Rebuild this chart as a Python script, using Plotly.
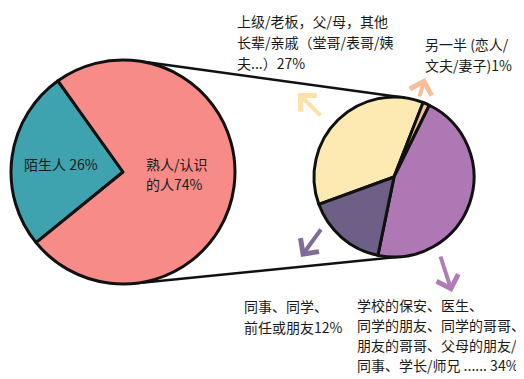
import math
import plotly.graph_objects as go

# page body adds an 8px margin; the figure is sized/offset so the picture fills the window
OX, OY = 8, 8
W, H = 516, 371

# ---- data ----
outer_labels = ["陌生人", "熟人/认识的人"]
outer_values = [26, 74]
outer_colors = ["#3FA3AF", "#F68B88"]

inner_labels = [
    "上级/老板，父/母，其他长辈/亲戚（堂哥/表哥/姨夫...）",
    "另一半（恋人/文夫/妻子）",
    "学校的保安、医生、同学的朋友、同学的哥哥、朋友的哥哥、父母的朋友/同事、学长/师兄 ......",
    "同事、同学、前任或朋友",
]
inner_values = [27, 1, 34, 12]
inner_colors = ["#FCEAB2", "#F8C29A", "#AE78B5", "#6E5F86"]
arrow_colors = ["#FCE2AA", "#F7BE98", "#B07CB8", "#7F6C98"]

# label line breaks (as they appear in the drawing)
outer_text_lines = [["陌生人 {}%"], ["熟人/认识", "的人{}%"]]
inner_text_lines = [
    ["上级/老板，父/母，其他", "长辈/亲戚（堂哥/表哥/姨", "夫...）{}%"],
    ["另一半 (恋人/", "文夫/妻子){}%"],
    ["学校的保安、医生、", "同学的朋友、同学的哥哥、", "朋友的哥哥、父母的朋友/", "同事、学长/师兄 ...... {}%"],
    ["同事、同学、", "前任或朋友{}%"],
]

# ---- layout geometry (window pixels) ----
C1, R1 = (123, 172), 112
C2, R2 = (394, 177), 80


def px(x):
    return (x - OX) / W


def py(y):
    return 1 - (y - OY) / H


def dom(c, r):
    return dict(x=[px(c[0] - r), px(c[0] + r)], y=[py(c[1] + r), py(c[1] - r)])


fig = go.Figure()
fig.add_trace(go.Pie(
    labels=outer_labels, values=outer_values, sort=False,
    direction="clockwise", rotation=-129.1,
    marker=dict(colors=outer_colors, line=dict(color="#111111", width=3)),
    textinfo="none", hoverinfo="label+percent", showlegend=False,
    domain=dom(C1, R1),
))
fig.add_trace(go.Pie(
    labels=inner_labels, values=inner_values, sort=False,
    direction="clockwise", rotation=250,
    marker=dict(colors=inner_colors, line=dict(color="#111111", width=3)),
    textinfo="none", hoverinfo="label+value", showlegend=False,
    domain=dom(C2, R2),
))

# external tangent connector lines
dx, dy = C2[0] - C1[0], C2[1] - C1[1]
D = math.hypot(dx, dy)
ux, uy = dx / D, dy / D
alpha = math.acos((R1 - R2) / D)
shapes = []
for s in (-1, 1):
    nx = math.cos(alpha) * ux - s * math.sin(alpha) * uy
    ny = math.cos(alpha) * uy + s * math.sin(alpha) * ux
    p1 = (C1[0] + R1 * nx, C1[1] + R1 * ny)
    p2 = (C2[0] + R2 * nx, C2[1] + R2 * ny)
    shapes.append(dict(type="line", xref="paper", yref="paper",
                       x0=px(p1[0]), y0=py(p1[1]), x1=px(p2[0]), y1=py(p2[1]),
                       line=dict(color="#111111", width=2.5), layer="below"))

FONT = dict(family="Noto Sans CJK SC, Noto Sans, sans-serif", size=14, color="#1A1A1A")
annotations = []


def text_block(lines, value, x, y0, anchor, lh):
    for i, ln in enumerate(lines):
        annotations.append(dict(
            text=ln.format(value) if "{}" in ln else ln,
            x=px(x), y=py(y0 + i * lh), xref="paper", yref="paper",
            xanchor=anchor, yanchor="middle", showarrow=False, font=FONT))


# label positions (window pixels, first line centre)
outer_pos = [(61, 164, "center"), (144, 164, "left")]
inner_pos = [(235, 21, "left"), (423, 44, "left"), (355, 305, "left"), (242, 306, "left")]
inner_lh = [21, 21, 20, 21]
for lines, v, (x, y, a) in zip(outer_text_lines, outer_values, outer_pos):
    text_block(lines, v, x, y, a, 20)
for lines, v, (x, y, a), lh in zip(inner_text_lines, inner_values, inner_pos, inner_lh):
    text_block(lines, v, x, y, a, lh)

# arrows (tip, tail) in window pixels
arrows = [((298, 93), (322, 117)), ((425, 78), (419, 98)),
          ((452, 292), (440, 255)), ((301, 257), (322, 228))]
for (tip, tail), col in zip(arrows, arrow_colors):
    annotations.append(dict(
        text="", x=px(tip[0]), y=py(tip[1]), xref="paper", yref="paper",
        ax=tail[0] - tip[0], ay=tail[1] - tip[1], axref="pixel", ayref="pixel",
        showarrow=True, arrowhead=4, arrowsize=1.1, arrowwidth=4,
        arrowcolor=col, standoff=0))

fig.update_layout(
    width=W, height=H, margin=dict(l=0, r=0, t=0, b=0),
    paper_bgcolor="white", plot_bgcolor="white",
    shapes=shapes, annotations=annotations,
)
fig.write_html("out.html")
